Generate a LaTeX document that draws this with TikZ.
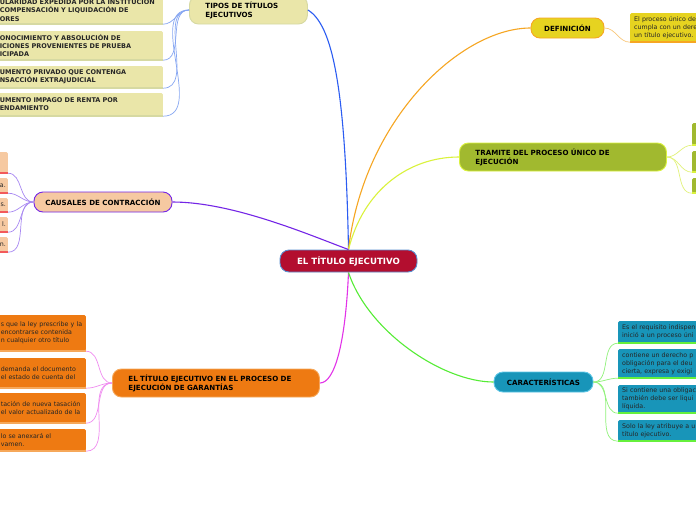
\documentclass[tikz,border=0pt]{standalone}
\usepackage{fontspec}
\setmainfont{DejaVu Sans}
\usepackage{xcolor}
\usetikzlibrary{positioning}

\definecolor{rootred}{HTML}{B30E2F}
\definecolor{rootline}{HTML}{5A8FD0}
\definecolor{khaki}{HTML}{EAE6A9}
\definecolor{khakiline}{HTML}{D6D9A2}
\definecolor{defyellow}{HTML}{E6D320}
\definecolor{deforange}{HTML}{F6A623}
\definecolor{olive}{HTML}{A1B92F}
\definecolor{olivebright}{HTML}{DAF23C}
\definecolor{teal}{HTML}{1895B9}
\definecolor{tealline}{HTML}{5CC6E6}
\definecolor{greenbright}{HTML}{66F03C}
\definecolor{peach}{HTML}{F6C9A1}
\definecolor{violet}{HTML}{7425E6}
\definecolor{redline}{HTML}{F25A5A}
\definecolor{orangebox}{HTML}{EE7A12}
\definecolor{orangeline}{HTML}{F6A85A}
\definecolor{bluemain}{HTML}{2B5CF2}
\definecolor{bluelight}{HTML}{86A6F2}
\definecolor{orangelink}{HTML}{F9C77A}
\definecolor{yglight}{HTML}{E2F27A}
\definecolor{greenmain}{HTML}{55EC35}
\definecolor{greenlight}{HTML}{90F27A}
\definecolor{violetlight}{HTML}{A888F2}
\definecolor{magentamain}{HTML}{E233E8}
\definecolor{magentalight}{HTML}{F08CF0}

\begin{document}
\begin{tikzpicture}[x=1pt, y=-1pt,
    topic/.style={rectangle, rounded corners=9pt, draw, line width=0.9pt, inner sep=0pt,
        font=\fontsize{7.1}{8.9}\selectfont\bfseries},
    leaf/.style={rectangle, rounded corners=1.5pt, inner ysep=1pt, inner xsep=4pt,
        font=\fontsize{6.3}{8.2}\selectfont, align=left, text=black!85},
    tipoleaf/.style={leaf, fill=khaki, text width=161pt, inner xsep=2pt, anchor=east,
        font=\fontsize{6.5}{8.2}\selectfont\bfseries},
    mainlink/.style={line width=1.1pt},
    leaflink/.style={line width=0.7pt},
    underline/.style={line width=1.6pt}
]

% Page
\useasboundingbox (0,0) rectangle (696,520);
\clip (0,0) rectangle (696,520);
\fill[white] (0,0) rectangle (696,520);

% Central topic
\node[topic, fill=rootred, draw=rootline, text=white, minimum width=137pt, minimum height=22pt,
    font=\fontsize{8.6}{10}\selectfont\bfseries]
    (root) at (348.5,261) {EL TÍTULO EJECUTIVO};

% Main topics
\node[topic, fill=khaki, draw=khakiline, minimum height=28pt, text width=86pt, inner xsep=16pt,
    align=left, anchor=west] (tipos) at (189,10) {TIPOS DE TÍTULOS\\EJECUTIVOS};
\node[topic, fill=defyellow, draw=deforange, minimum width=73pt, minimum height=20pt]
    (def) at (567.5,28) {DEFINICIÓN};
\node[topic, fill=olive, draw=olivebright, minimum height=28pt, text width=175pt, inner xsep=16pt,
    align=left, anchor=west] (tram) at (459,157) {TRAMITE DEL PROCESO ÚNICO DE\\EJECUCIÓN};
\node[topic, fill=teal, draw=tealline, minimum width=99pt, minimum height=20pt]
    (car) at (543.5,382) {CARACTERÍSTICAS};
\node[topic, fill=peach, draw=violet, minimum width=138pt, minimum height=20pt]
    (caus) at (103,202) {CAUSALES DE CONTRACCIÓN};
\node[topic, fill=orangebox, draw=orangeline, minimum height=28pt, text width=175pt, inner xsep=16pt,
    align=left, anchor=west] (gar) at (112,383) {EL TÍTULO EJECUTIVO EN EL PROCESO DE\\EJECUCIÓN DE GARANTÍAS};

% Tipos de titulos
\node[tipoleaf, minimum height=28pt] (t1) at (163,10) {ULARIDAD EXPEDIDA POR LA INSTITUCIÓN\\COMPENSACIÓN Y LIQUIDACIÓN DE\\ORES};
\node[tipoleaf, minimum height=29pt] (t2) at (163,45.5) {ONOCIMIENTO Y ABSOLUCIÓN DE\\ICIONES PROVENIENTES DE PRUEBA\\ICIPADA};
\node[tipoleaf, minimum height=22pt] (t3) at (163,77) {UMENTO PRIVADO QUE CONTENGA\\NSACCIÓN EXTRAJUDICIAL};
\node[tipoleaf, minimum height=23pt] (t4) at (163,104.5) {UMENTO IMPAGO DE RENTA POR\\ENDAMIENTO};

% Definicion
\node[leaf, fill=defyellow, text width=90pt, minimum height=29pt, anchor=west]
    (d1) at (630,27.5) {El proceso único de\\cumpla con un dere\\un título ejecutivo.};

% Tramite
\node[leaf, fill=olive, minimum width=30pt, minimum height=22pt, anchor=west] (r1) at (692,134) {};
\node[leaf, fill=olive, minimum width=30pt, minimum height=21pt, anchor=west] (r2) at (692,161.5) {};
\node[leaf, fill=olive, minimum width=30pt, minimum height=15pt, anchor=west] (r3) at (692,185.5) {};

% Caracteristicas
\node[leaf, fill=teal, text width=90pt, minimum height=22pt, anchor=west]
    (c1) at (618,332) {Es el requisito indispen\\inició a un proceso úni};
\node[leaf, fill=teal, text width=90pt, minimum height=29pt, anchor=west]
    (c2) at (618,363.5) {contiene un derecho p\\obligación para el deu\\cierta, expresa y exigi};
\node[leaf, fill=teal, text width=90pt, minimum height=28pt, anchor=west]
    (c3) at (618,399) {Si contiene una obligac\\también debe ser liqui\\líquida.};
\node[leaf, fill=teal, text width=90pt, minimum height=21pt, anchor=west]
    (c4) at (618,430.5) {Solo la ley atribuye a u\\título ejecutivo.};

% Causales
\node[leaf, fill=peach, text width=26pt, inner xsep=2pt, align=right, minimum height=21pt, anchor=east] (p1) at (8,162.5) {};
\node[leaf, fill=peach, text width=26pt, inner xsep=2pt, align=right, minimum height=15pt, anchor=east] (p2) at (8,185.5) {a.};
\node[leaf, fill=peach, text width=26pt, inner xsep=2pt, align=right, minimum height=14pt, anchor=east] (p3) at (8,205) {s.};
\node[leaf, fill=peach, text width=26pt, inner xsep=2pt, align=right, minimum height=15pt, anchor=east] (p4) at (8,224.5) {l.};
\node[leaf, fill=peach, text width=26pt, inner xsep=2pt, align=right, minimum height=15pt, anchor=east] (p5) at (8,244.5) {n.};

% Garantias
\node[leaf, fill=orangebox, text width=83pt, inner xsep=2pt, minimum height=36pt, anchor=east]
    (g1) at (86,333) {s que la ley prescribe y la\\ encontrarse contenida\\n cualquier otro título};
\node[leaf, fill=orangebox, text width=83pt, inner xsep=2pt, minimum height=30pt, anchor=east]
    (g2) at (86,373) {demanda el documento\\el estado de cuenta del};
\node[leaf, fill=orangebox, text width=83pt, inner xsep=2pt, minimum height=30pt, anchor=east]
    (g3) at (86,408) {tación de nueva tasación\\el valor actualizado de la};
\node[leaf, fill=orangebox, text width=83pt, inner xsep=2pt, minimum height=22pt, anchor=east]
    (g4) at (86,440) {lo se anexará el\\vamen.};

% Leaf bottom edges
\foreach \n in {t1,t2,t3,t4} \draw[underline, khakiline] (\n.south west) -- (\n.south east);
\draw[underline, deforange] (d1.south west) -- (d1.south east);
\foreach \n in {r1,r2,r3} \draw[underline, olivebright] (\n.south west) -- (\n.south east);
\foreach \n in {c1,c2,c3,c4} \draw[underline, greenbright] (\n.south west) -- (\n.south east);
\foreach \n in {p1,p2,p3,p4,p5} \draw[underline, redline] (\n.south west) -- (\n.south east);
\foreach \n in {g1,g2,g3,g4} \draw[underline, orangeline] (\n.south west) -- (\n.south east);

% Main branches
\draw[mainlink, bluemain] (root.north) .. controls +(-3,-160) and +(25,15) .. (tipos.east);
\draw[mainlink, deforange] (root.north) .. controls +(15,-130) and +(-70,0) .. (def.west);
\draw[mainlink, olivebright] (root.north) .. controls +(15,-60) and +(-50,0) .. (tram.west);
\draw[mainlink, violet] (root.north) .. controls +(-40,-15) and +(60,0) .. (caus.east);
\draw[mainlink, magentamain] (root.south) .. controls +(-3,70) and +(15,0) .. (gar.east);
\draw[mainlink, greenmain] (root.south) .. controls +(20,60) and +(-50,0) .. (car.west);

% Leaf links
\foreach \n in {t1,t2,t3,t4} \draw[leaflink, bluelight] (tipos.west) to[out=180,in=0] (\n.south east);
\draw[leaflink, orangelink] (def.east) to[out=0,in=180] (d1.south west);
\foreach \n in {r1,r2,r3} \draw[leaflink, yglight] (tram.east) to[out=0,in=180] (\n.south west);
\foreach \n in {c1,c2,c3,c4} \draw[leaflink, greenlight] (car.east) to[out=0,in=180] (\n.south west);
\foreach \n in {p1,p2,p3,p4,p5} \draw[leaflink, violetlight] (caus.west) to[out=180,in=0] (\n.south east);
\foreach \n in {g1,g2,g3,g4} \draw[leaflink, magentalight] (gar.west) to[out=180,in=0] (\n.south east);

\end{tikzpicture}
\end{document}
